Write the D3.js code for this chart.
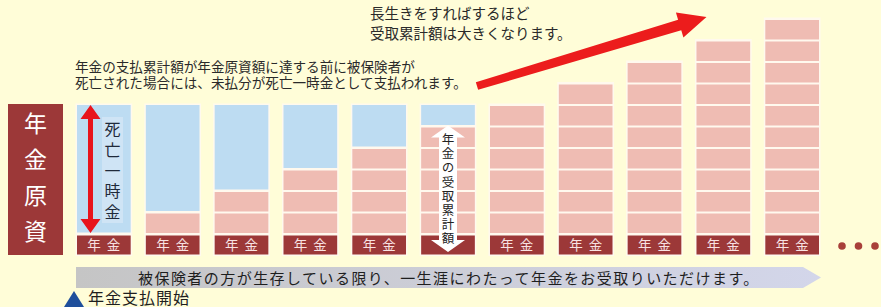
<!DOCTYPE html>
<html>
<head>
<meta charset="utf-8">
<script src="https://cdn.jsdelivr.net/npm/d3@7"></script>
<style>
  body { margin: 0; background: #fffdd8; }
  svg { display: block; font-family: "Noto Sans CJK JP", "Noto Sans", sans-serif; }
  .vert { writing-mode: vertical-rl; }
</style>
</head>
<body>
<div id="chart"></div>
<script>
// payment years (columns) and stacked pension units
var years = [1, 2, 3, 4, 5, 6, 7, 8, 9, 10, 11];
var paidUnits = [0, 1, 2, 3, 4, 5, 6, 7, 8, 9, 10];   // pink: accumulated payments
var principalUnits = 6;                                  // 年金原資 level
var unitTicks = [0, 1, 2, 3, 4, 5, 6, 7, 8, 9, 10];

var labelPay = "年金";
var labelPrincipal = "年金原資";
var labelDeath = "死亡一時金";
var labelTotal = "年金の受取累計額";
var noteTop = ["長生きをすればするほど", "受取累計額は大きくなります。"];
var noteMid = ["年金の支払累計額が年金原資額に達する前に被保険者が", "死亡された場合には、未払分が死亡一時金として支払われます。"];
var bannerText = "被保険者の方が生存している限り、一生涯にわたって年金をお受取りいただけます。";
var startText = "年金支払開始";

var width = 881, height = 307;

var svg = d3.select("#chart")
    .append("svg")
    .attr("width", width)
    .attr("height", height);

svg.append("rect")
    .attr("width", width)
    .attr("height", height)
    .attr("fill", "#fffdd8");

var x = d3.scaleBand().domain(years).range([77, 819]).paddingInner(0.22).paddingOuter(0);
var y = d3.scaleLinear().domain([0, 10]).range([234, 19]);
var unitH = y(0) - y(1);

var defs = svg.append("defs");
var grad = defs.append("linearGradient").attr("id", "bannerGrad");
grad.append("stop").attr("offset", "0%").attr("stop-color", "#c5c5c5");
grad.append("stop").attr("offset", "100%").attr("stop-color", "#d3d6ea");

// principal box
var px0 = 8, px1 = 63;
svg.append("rect")
    .attr("x", px0).attr("y", y(principalUnits) - 1)
    .attr("width", px1 - px0).attr("height", 255 - y(principalUnits) + 1)
    .attr("fill", "#9c3838");
svg.append("text")
    .attr("class", "vert")
    .attr("x", (px0 + px1) / 2)
    .attr("y", 112)
    .attr("font-size", 23)
    .attr("letter-spacing", 13)
    .attr("fill", "#ffffff")
    .text(labelPrincipal);

// columns
var col = svg.selectAll(".col")
    .data(years)
    .enter().append("g")
    .attr("class", "col")
    .attr("transform", function (d) { return "translate(" + x(d) + ",0)"; });

// pale outline
col.append("rect")
    .attr("x", -1.5)
    .attr("y", function (d, i) { return y(Math.max(paidUnits[i], principalUnits)) - 1.5; })
    .attr("width", x.bandwidth() + 3)
    .attr("height", function (d, i) { return 256 - y(Math.max(paidUnits[i], principalUnits)) + 1.5; })
    .attr("fill", "#fff9ee");

// remaining principal (blue)
col.filter(function (d, i) { return paidUnits[i] < principalUnits; })
    .append("rect")
    .attr("x", 0)
    .attr("y", y(principalUnits))
    .attr("width", x.bandwidth())
    .attr("height", function (d) {
        var i = years.indexOf(d);
        return y(paidUnits[i]) - y(principalUnits) - 1.5;
    })
    .attr("fill", "#bddcf2");

// paid segments (pink)
col.each(function (d, i) {
    var segs = d3.range(paidUnits[i]);
    d3.select(this).selectAll(".seg")
        .data(segs)
        .enter().append("rect")
        .attr("class", "seg")
        .attr("x", 0)
        .attr("y", function (k) { return y(k + 1) + 1; })
        .attr("width", x.bandwidth())
        .attr("height", unitH - 2)
        .attr("fill", "#efbcb3");
});

// payment label
col.append("rect")
    .attr("x", 0).attr("y", 235.5)
    .attr("width", x.bandwidth()).attr("height", 19)
    .attr("fill", "#9c3838");
// column 6 label is hidden under the white arrow
col.filter(function (d, i) { return i !== 5; })
    .append("text")
    .attr("x", x.bandwidth() / 2 + 3)
    .attr("y", 250)
    .attr("text-anchor", "middle")
    .attr("font-size", 13.5)
    .attr("letter-spacing", 6)
    .attr("fill", "#f8e2e2")
    .text(labelPay);

// dots
svg.selectAll(".dot")
    .data([0, 1, 2])
    .enter().append("circle")
    .attr("cx", function (d) { return 842 + d * 16.5; })
    .attr("cy", 246)
    .attr("r", 3.8)
    .attr("fill", "#a8403a");

// death benefit arrow in column 1
var c1 = x(years[0]);
var ax = c1 + 13.5;
var aTop = y(principalUnits), aBot = y(0) - 1;
svg.append("path")
    .attr("d", d3.line()([
        [ax - 2.5, aTop + 14], [ax - 10, aTop + 14], [ax, aTop], [ax + 10, aTop + 14], [ax + 2.5, aTop + 14],
        [ax + 2.5, aBot - 14], [ax + 10, aBot - 14], [ax, aBot], [ax - 10, aBot - 14], [ax - 2.5, aBot - 14]
    ]) + "Z")
    .attr("fill", "#e8141c");
svg.append("rect")
    .attr("x", c1 + 25).attr("y", 117)
    .attr("width", 21).attr("height", 106)
    .attr("fill", "#cfe4f5");
svg.append("text")
    .attr("class", "vert")
    .attr("x", c1 + 35.5)
    .attr("y", 121)
    .attr("font-size", 16)
    .attr("letter-spacing", 4.8)
    .attr("fill", "#1f2a3a")
    .text(labelDeath);

// accumulated total arrow in column 6
var c6 = x(years[5]) + x.bandwidth() / 2;
var tTop = y(principalUnits - 1) - 1, tBot = 252;
svg.append("path")
    .attr("d", d3.line()([
        [c6 - 9, tTop + 12], [c6 - 17, tTop + 12], [c6, tTop], [c6 + 17, tTop + 12], [c6 + 9, tTop + 12],
        [c6 + 9, tBot - 12], [c6 + 17, tBot - 12], [c6, tBot], [c6 - 17, tBot - 12], [c6 - 9, tBot - 12]
    ]) + "Z")
    .attr("fill", "#ffffff");
svg.append("text")
    .attr("class", "vert")
    .attr("x", c6)
    .attr("y", 133)
    .attr("font-size", 12.5)
    .attr("letter-spacing", 1.7)
    .attr("fill", "#222222")
    .text(labelTotal);

// big red arrow
var tail = [x(years[6]) - 13, y(principalUnits) - 19];
var tip = [x(years[9]) + 10, y(unitTicks[10]) - 2];
var ang = Math.atan2(tip[1] - tail[1], tip[0] - tail[0]);
var len = Math.hypot(tip[0] - tail[0], tip[1] - tail[1]);
var headL = 28, headW = 13, shaftW0 = 4, shaftW1 = 5.5;
var pts = [
    [0, -shaftW0], [len - headL, -shaftW1], [len - headL, -headW], [len, 0],
    [len - headL, headW], [len - headL, shaftW1], [0, shaftW0]
].map(function (p) {
    return [tail[0] + p[0] * Math.cos(ang) - p[1] * Math.sin(ang),
            tail[1] + p[0] * Math.sin(ang) + p[1] * Math.cos(ang)];
});
svg.append("path")
    .attr("d", d3.line()(pts) + "Z")
    .attr("fill", "#ec1c1c");

// notes
svg.selectAll(".ntop")
    .data(noteTop)
    .enter().append("text")
    .attr("class", "ntop")
    .attr("x", 370)
    .attr("y", function (d, i) { return 19 + i * 20; })
    .attr("font-size", 14.5)
    .attr("fill", "#2a2a2a")
    .text(function (d) { return d; });

svg.selectAll(".nmid")
    .data(noteMid)
    .enter().append("text")
    .attr("class", "nmid")
    .attr("x", 75)
    .attr("y", function (d, i) { return 72 + i * 16; })
    .attr("font-size", 13.6)
    .attr("fill", "#2a2a2a")
    .text(function (d) { return d; });

// banner
svg.append("path")
    .attr("d", d3.line()([[76, 267], [803, 267], [821, 277.5], [803, 288], [76, 288]]) + "Z")
    .attr("fill", "url(#bannerGrad)");
svg.append("text")
    .attr("x", 138)
    .attr("y", 283.5)
    .attr("font-size", 15)
    .attr("letter-spacing", 1.45)
    .attr("fill", "#1e1e1e")
    .text(bannerText);

// start marker
svg.append("path")
    .attr("d", d3.line()([[64, 307], [74, 291], [84, 307]]) + "Z")
    .attr("fill", "#1f4f9c");
svg.append("text")
    .attr("x", 88)
    .attr("y", 304)
    .attr("font-size", 16)
    .attr("letter-spacing", 1)
    .attr("fill", "#1e1e1e")
    .text(startText);
</script>
</body>
</html>
